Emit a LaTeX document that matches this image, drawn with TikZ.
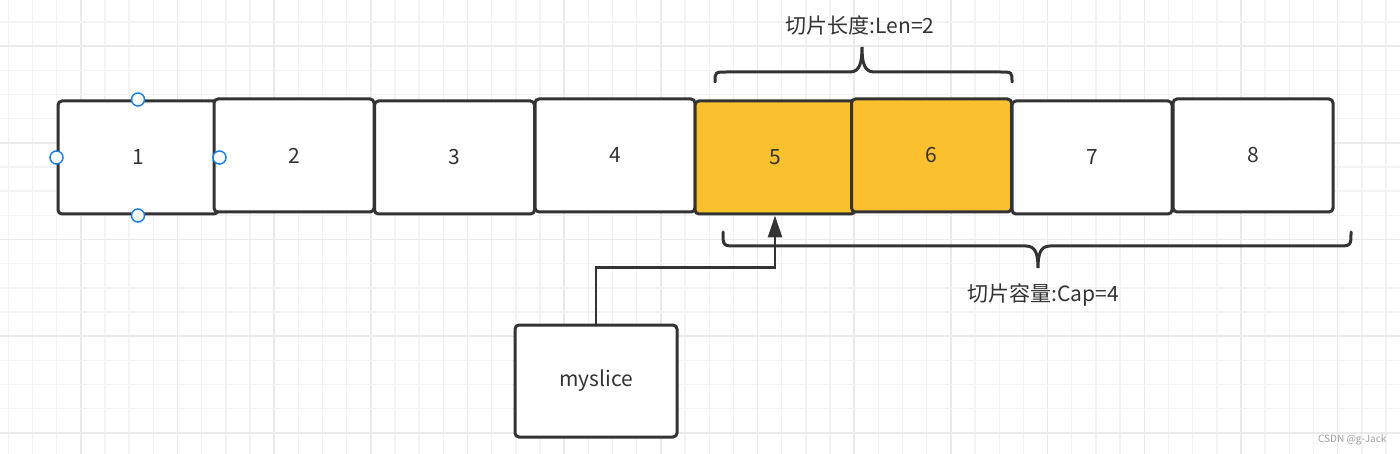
\documentclass[tikz,border=0pt]{standalone}
\usepackage{fontspec}
\setmainfont{Noto Sans CJK SC}
\usepackage{xcolor}
\usetikzlibrary{arrows.meta}
\definecolor{LineDark}{HTML}{333333}
\definecolor{TextDark}{HTML}{333333}
\definecolor{CellYellow}{HTML}{FBC02D}
\definecolor{GridMinor}{HTML}{F3F3F3}
\definecolor{GridMajor}{HTML}{EAEAEA}
\definecolor{HandleBlue}{HTML}{1A7FE6}
\definecolor{MarkGray}{HTML}{A0A0A0}

\begin{document}
\begin{tikzpicture}[
	x=1pt, y=-1pt,
	cell/.style={
		draw=LineDark,
		fill=white,
		line width=3pt,
		rounded corners=4pt,
		minimum width=160pt,
		minimum height=113pt,
		text=TextDark,
		font=\fontsize{21}{25}\selectfont
	},
	hot cell/.style={
		cell,
		fill=CellYellow
	},
	% selection handles on cell 1
	handle/.style={
		circle,
		draw=HandleBlue,
		fill=white,
		line width=1.5pt,
		minimum size=13pt,
		inner sep=0pt
	},
	label text/.style={
		text=TextDark,
		font=\fontsize{21}{25}\selectfont
	},
	brace line/.style={
		draw=LineDark,
		line width=3pt,
		line cap=round
	},
	link/.style={
		draw=LineDark,
		line width=2.6pt,
		-{Triangle[length=22pt,width=14pt]}
	}
	]
	
	\useasboundingbox (0,0) rectangle (1400,454);
	\fill[white] (0,0) rectangle (1400,454);
	
	% ================= GRID =================
	\foreach \i in {0,...,57}{
		\pgfmathtruncatemacro{\r}{mod(\i,4)}
		\ifnum\r=3
			\draw[GridMajor, line width=1.6pt] ({8.3+24.17*\i},0) -- ({8.3+24.17*\i},454);
		\else
			\draw[GridMinor, line width=1.4pt] ({8.3+24.17*\i},0) -- ({8.3+24.17*\i},454);
		\fi
	}
	\foreach \j in {0,...,18}{
		\pgfmathtruncatemacro{\r}{mod(\j,4)}
		\ifnum\r=1
			\draw[GridMajor, line width=1.6pt] (0,{22+24.17*\j}) -- (1400,{22+24.17*\j});
		\else
			\draw[GridMinor, line width=1.4pt] (0,{22+24.17*\j}) -- (1400,{22+24.17*\j});
		\fi
	}
	
	% ================= CELLS =================
	\node[cell] (c1) at (138, 157.5) {1};
	\node[cell] (c2) at (294, 155.5) {2};
	\node[cell] (c3) at (454.5, 157.5) {3};
	\node[cell] (c4) at (615, 155.5) {4};
	\node[hot cell] (c5) at (775, 157.5) {5};
	\node[hot cell] (c6) at (931.5, 155.5) {6};
	\node[cell] (c7) at (1092, 157.5) {7};
	\node[cell] (c8) at (1253, 155.5) {8};
	
	\node[cell, minimum width=162pt, minimum height=112pt] (ms) at (596, 381) {myslice};
	
	% handles
	\node[handle] (h1) at (c1.north) {};
	\node[handle] (h2) at (c1.west) {};
	\node[handle] (h3) at (c1.east) {};
	\node[handle] (h4) at (c1.south) {};
	
	% ================= BRACES =================
	\draw[brace line] (715,82) .. controls (715,72) .. (727,72) -- (850,72)
		.. controls (860,72) and (862,62) .. (862,47)
		.. controls (862,62) and (864,72) .. (874,72) -- (1000,72)
		.. controls (1012,72) .. (1012,82);
	\node[label text] (len) at (860,25) {切片长度:Len=2};
	
	\draw[brace line] (723,232) .. controls (723,246) .. (737,246) -- (1026,246)
		.. controls (1036,246) and (1038,255) .. (1038,268)
		.. controls (1038,255) and (1040,246) .. (1050,246) -- (1337,246)
		.. controls (1351,246) .. (1351,232);
	\node[label text] (cap) at (1043,295) {切片容量:Cap=4};
	
	% ================= ARROW =================
	\draw[link] (ms.north) -- ++(0,-56) -| (c5.south);
	
	\node[text=MarkGray, font=\fontsize{10}{12}\selectfont, anchor=east] (mark) at (1390,440) {CSDN @g-Jack};
	
\end{tikzpicture}
\end{document}
